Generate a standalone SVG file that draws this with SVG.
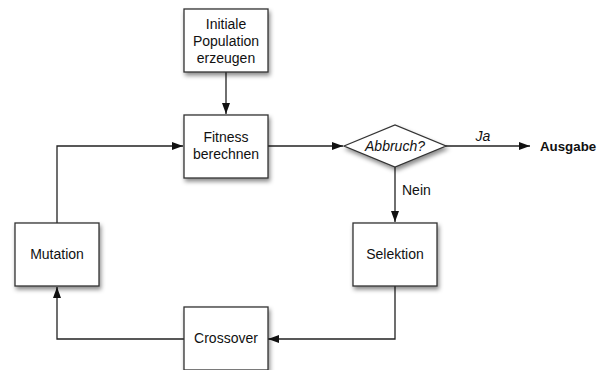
<svg xmlns="http://www.w3.org/2000/svg" width="599" height="370" viewBox="0 0 599 370">
<style>
.box{fill:#fff;stroke:#333;stroke-width:1.3;filter:url(#sh)}
.t{font-family:"Liberation Sans",Arial,sans-serif;font-size:14px;fill:#111;text-anchor:middle}
.c{fill:none;stroke:#222;stroke-width:1.3}
</style>
<defs>
<filter id="sh" x="-20%" y="-20%" width="150%" height="150%">
<feDropShadow dx="1.5" dy="3" stdDeviation="2" flood-color="#000" flood-opacity="0.45"/>
</filter>
<marker id="ar" viewBox="0 0 11 8" refX="11" refY="4" markerWidth="11" markerHeight="8" markerUnits="userSpaceOnUse" orient="auto">
<path d="M0,0 L11,4 L0,8 Z" fill="#111"/>
</marker>
</defs>
<rect width="599" height="370" fill="#fff"/>
<g id="connectors">
<path class="c" d="M226,72 V114" marker-end="url(#ar)"/>
<path class="c" d="M268,146 H343" marker-end="url(#ar)"/>
<path class="c" d="M445,146 H530" marker-end="url(#ar)"/>
<path class="c" d="M395,167 V222" marker-end="url(#ar)"/>
<path class="c" d="M395,286 V339 H268" marker-end="url(#ar)"/>
<path class="c" d="M184,339 H57 V287" marker-end="url(#ar)"/>
<path class="c" d="M57,223 V146 H183" marker-end="url(#ar)"/>
<text class="t" x="483" y="141" font-style="italic">Ja</text>
<text class="t" x="402" y="195" style="text-anchor:start">Nein</text>
</g>
<g id="init">
<rect class="box" x="184" y="9" width="84" height="63"/>
<text class="t" x="226" y="29">Initiale</text>
<text class="t" x="226" y="46">Population</text>
<text class="t" x="226" y="63">erzeugen</text>
</g>
<g id="fitness">
<rect class="box" x="184" y="115" width="84" height="63"/>
<text class="t" x="226" y="142">Fitness</text>
<text class="t" x="226" y="159">berechnen</text>
</g>
<g id="abbruch">
<polygon class="box" points="344,146 395,125 446,146 395,167"/>
<text class="t" x="395" y="151" font-style="italic">Abbruch?</text>
</g>
<g id="ausgabe">
<text class="t" x="540" y="151" font-weight="bold" style="text-anchor:start;font-size:13.3px">Ausgabe</text>
</g>
<g id="selektion">
<rect class="box" x="353" y="223" width="84" height="63"/>
<text class="t" x="395" y="259">Selektion</text>
</g>
<g id="crossover">
<rect class="box" x="184" y="307" width="84" height="63"/>
<text class="t" x="226" y="343">Crossover</text>
</g>
<g id="mutation">
<rect class="box" x="15" y="223" width="84" height="63"/>
<text class="t" x="57" y="259">Mutation</text>
</g>
</svg>
